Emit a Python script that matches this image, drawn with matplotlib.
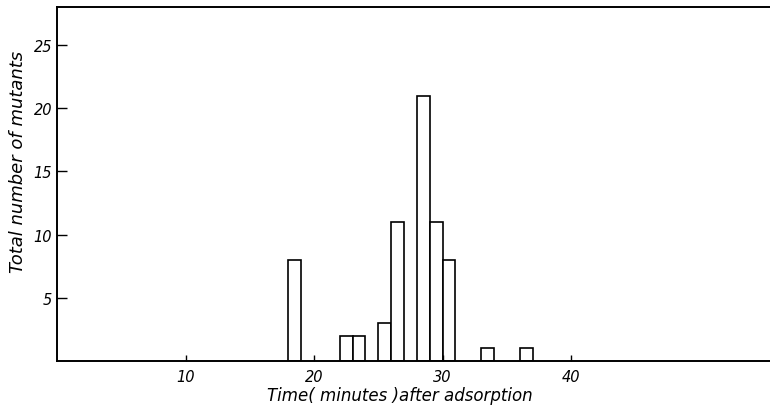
import matplotlib.pyplot as plt

# Histogram of mutants per 1-minute interval after adsorption
interval_start = [18, 22, 23, 25, 26, 28, 29, 30, 33, 36]
mutant_counts = [8, 2, 2, 3, 11, 21, 11, 8, 1, 1]

x_ticks = [10, 20, 30, 40]
y_ticks = [5, 10, 15, 20, 25]

plt.rcParams["font.family"] = "DejaVu Sans"

fig = plt.figure(figsize=(7.7, 4.06), dpi=100)
# axes runs off the right edge, like the cropped original
ax = fig.add_axes([57 / 770, 44 / 406, 730 / 770, 354 / 406])

ax.bar(interval_start, mutant_counts, width=1.0, align="edge",
       facecolor="white", edgecolor="black", linewidth=1.2)

ax.set_xlim(0, 56.8)
ax.set_ylim(0, 28)
ax.spines["right"].set_visible(False)
for s in ["left", "bottom", "top"]:
    ax.spines[s].set_linewidth(1.4)

ax.set_xticks(x_ticks)
ax.set_yticks(y_ticks)
ax.tick_params(direction="in", length=7, width=1.0, labelsize=10.5)
ax.tick_params(axis="x", length=4, pad=6)
for lab in ax.get_xticklabels() + ax.get_yticklabels():
    lab.set_fontstyle("italic")

ax.set_xlabel("Time( minutes )after adsorption", fontsize=12,
              fontstyle="italic", labelpad=1)
ax.set_ylabel("Total number of mutants", fontsize=13,
              fontstyle="italic", labelpad=5)
# labels sit a bit off-centre in the original
ax.xaxis.label.set_x(0.47)
ax.yaxis.label.set_y(0.565)

fig.savefig("out.png", dpi=100)
